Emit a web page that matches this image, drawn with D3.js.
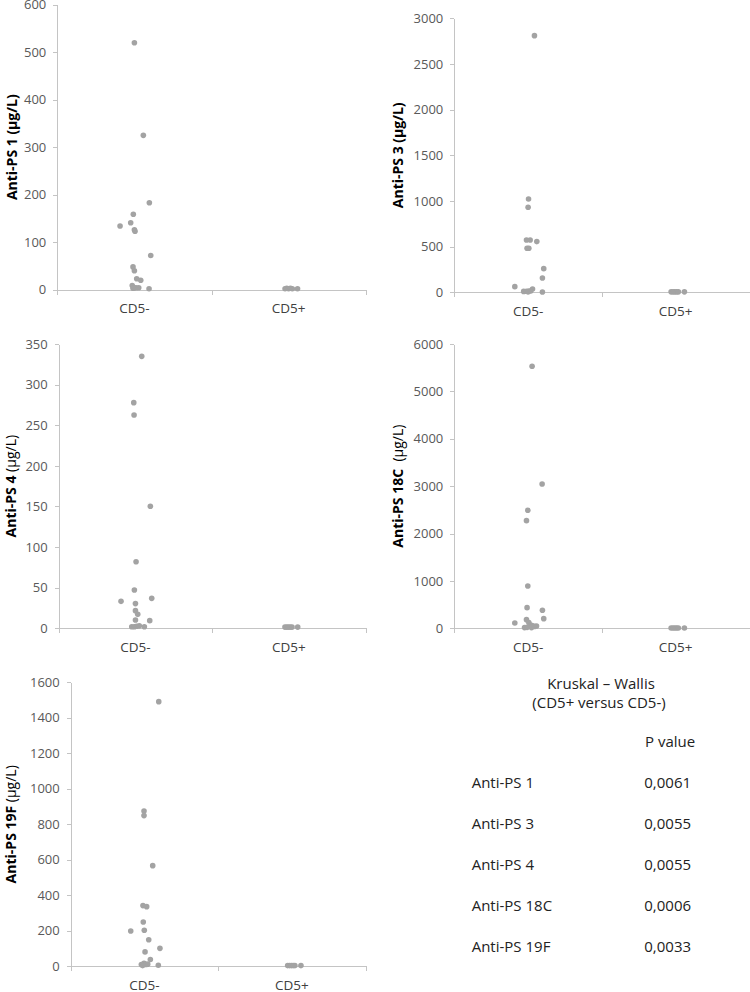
<!DOCTYPE html>
<html>
<head>
<meta charset="utf-8">
<script src="https://cdn.jsdelivr.net/npm/d3@7"></script>
<style>
  html, body { margin: 0; padding: 0; background: #fff; }
  svg { display: block; font-family: "Open Sans", sans-serif; }
  .axis path, .axis line { stroke: #c4c4c4; shape-rendering: crispEdges; }
  .axis text { fill: #595959; font-size: 13px; font-family: "Open Sans", sans-serif; }
  .cat { fill: #404040; font-size: 13.5px; }
  .ylab { fill: #000; font-size: 14px; font-weight: 700; }
  .ylab .unit-light { font-weight: 400; }
  .tbl { fill: #222; font-size: 15px; }
</style>
</head>
<body>
<svg id="chart" width="750" height="992"></svg>
<script>
// categories on the x axis of every panel
const categories = ["CD5-", "CD5+"]

// y axis: max and tick step per panel
const yMax = [600, 3000, 350, 6000, 1600]
const yStep = [100, 500, 50, 1000, 200]

// Anti-PS 1
const ps1Neg = [520, 325, 183, 159, 141, 134, 126, 123, 72, 48, 40, 23, 20, 9, 2, 4, 4, 4, 3]
const ps1NegJit = [0, 0.058, 0.097, -0.007, -0.024, -0.093, 0, 0.004, 0.106, -0.009, 0, 0.015, 0.041, -0.014, 0.095, 0, 0.01, 0.028, -0.009]
const ps1Pos = [2, 3, 2, 3, 2, 2]
const ps1PosJit = [-0.023, -0.012, 0, 0.012, 0.024, 0.058]

// Anti-PS 3
const ps3Neg = [2810, 1022, 931, 573, 573, 555, 482, 482, 259, 157, 62, 36, 10, 12, 15, 15, 4, 5]
const ps3NegJit = [0.043, 0.003, 0, -0.011, 0.014, 0.059, -0.007, 0.005, 0.106, 0.097, -0.09, 0.03, -0.03, -0.011, 0.005, 0.018, 0.097, 0]
const ps3Pos = [5, 5, 5, 5, 5, 5]
const ps3PosJit = [-0.031, -0.018, -0.006, 0.006, 0.018, 0.059]

// Anti-PS 4
const ps4Neg = [334.8, 277.8, 262.6, 150.2, 82, 47.2, 36.9, 33.2, 30.4, 21.7, 17.2, 10.3, 9.4, 2, 2, 2.5, 3, 2]
const ps4NegJit = [0.041, -0.011, -0.009, 0.097, 0.004, -0.007, 0.106, -0.094, 0, 0, 0.015, 0, 0.093, -0.024, -0.007, 0.008, 0.025, 0.058]
const ps4Pos = [1.5, 1.5, 1.5, 1.5, 1.5, 1.5]
const ps4PosJit = [-0.026, -0.014, -0.003, 0.008, 0.02, 0.057]

// Anti-PS 18C
const ps18Neg = [5529, 3046, 2490, 2272, 893, 436, 380, 204, 183, 113, 120, 70, 60, 50, 40, 15, 20, 15]
const ps18NegJit = [0.027, 0.095, -0.002, -0.011, -0.002, -0.007, 0.097, 0.106, -0.011, -0.09, 0.005, 0.016, 0.027, 0.057, 0.043, -0.024, -0.007, 0.023]
const ps18Pos = [5, 5, 5, 5, 5, 5]
const ps18PosJit = [-0.031, -0.018, -0.006, 0.006, 0.018, 0.059]

// Anti-PS 19F
const ps19Neg = [1491, 875, 849, 567, 342, 336, 250, 203, 199, 150, 101, 81, 38, 17, 10, 10, 12, 6, 4]
const ps19NegJit = [0.097, -0.003, -0.003, 0.056, -0.01, 0.015, -0.008, -0.001, -0.093, 0.029, 0.105, 0.004, 0.04, -0.003, -0.021, 0.011, 0.022, 0.094, -0.012]
const ps19Pos = [4, 4, 4, 4, 4, 4]
const ps19PosJit = [-0.029, -0.016, -0.004, 0.008, 0.02, 0.061]

// Kruskal-Wallis table
const tableRows = ["Anti-PS 1", "Anti-PS 3", "Anti-PS 4", "Anti-PS 18C", "Anti-PS 19F"]
const pValues = ["0,0061", "0,0055", "0,0055", "0,0006", "0,0033"]

const panelNames = ["Anti-PS 1", "Anti-PS 3", "Anti-PS 4", "Anti-PS 18C", "Anti-PS 19F"]
const series = [
  [[ps1Neg, ps1NegJit], [ps1Pos, ps1PosJit]],
  [[ps3Neg, ps3NegJit], [ps3Pos, ps3PosJit]],
  [[ps4Neg, ps4NegJit], [ps4Pos, ps4PosJit]],
  [[ps18Neg, ps18NegJit], [ps18Pos, ps18PosJit]],
  [[ps19Neg, ps19NegJit], [ps19Pos, ps19PosJit]],
]

// pixel boxes of each plot area (layout only)
const boxes = [
  { x0: 57.3, x1: 365.7, top: 4.7, bottom: 289.7, labX: 11, boldUnit: true },
  { x0: 454.3, x1: 749.5, top: 18.3, bottom: 292.3, labX: 397, boldUnit: true },
  { x0: 58.7, x1: 365.7, top: 344, bottom: 628.3, labX: 10, boldUnit: false },
  { x0: 454.3, x1: 749.5, top: 344, bottom: 628.3, labX: 397, boldUnit: false },
  { x0: 70.7, x1: 365.7, top: 682.3, bottom: 966.3, labX: 10, boldUnit: false },
]

const svg = d3.select("#chart")

boxes.forEach((b, i) => {
  const g = svg.append("g")
  const x = d3.scaleLinear().domain([0, categories.length]).range([b.x0, b.x1])
  const y = d3.scaleLinear().domain([0, yMax[i]]).range([b.bottom, b.top])

  g.append("g")
    .attr("class", "axis")
    .attr("transform", `translate(${b.x0},0)`)
    .call(d3.axisLeft(y).tickValues(d3.range(0, yMax[i] + 1, yStep[i])).tickSize(4).tickSizeOuter(0).tickPadding(7).tickFormat(d3.format("d")))

  g.append("g")
    .attr("class", "axis")
    .attr("transform", `translate(0,${b.bottom})`)
    .call(d3.axisBottom(x).tickValues(d3.range(0, categories.length + 1)).tickSize(5).tickSizeOuter(0).tickFormat(""))

  g.selectAll(".cat")
    .data(categories)
    .join("text")
    .attr("class", "cat")
    .attr("x", (d, k) => x(k + 0.5))
    .attr("y", b.bottom + 23.5)
    .attr("text-anchor", "middle")
    .text((d) => d)

  const pts = []
  series[i].forEach(([vals, jit], k) => {
    vals.forEach((v, j) => pts.push({ c: k + 0.5 + jit[j], v }))
  })
  g.selectAll("circle")
    .data(pts)
    .join("circle")
    .attr("cx", (d) => x(d.c))
    .attr("cy", (d) => y(d.v))
    .attr("r", 2.8)
    .attr("fill", "#a3a3a3")

  const cy = (b.top + b.bottom) / 2
  const lab = g.append("text")
    .attr("class", "ylab")
    .attr("text-anchor", "middle")
    .attr("dominant-baseline", "central")
    .attr("transform", `translate(${b.labX},${cy}) rotate(-90)`)
  lab.append("tspan").text(panelNames[i] + (i === 3 ? "\u00a0 " : " "))
  lab.append("tspan").attr("class", b.boldUnit ? null : "unit-light").text("(µg/L)")
})

// table
const tbl = svg.append("g").attr("class", "tbl")
tbl.append("text").attr("x", 601).attr("y", 689).attr("text-anchor", "middle").text("Kruskal – Wallis")
tbl.append("text").attr("x", 599).attr("y", 708).attr("text-anchor", "middle").text("(CD5+ versus CD5-)")
tbl.append("text").attr("x", 645).attr("y", 747).text("P value")

const rowY = d3.scalePoint().domain(tableRows).range([788, 952])
tbl.selectAll(".row")
  .data(tableRows)
  .join("text")
  .attr("class", "row")
  .attr("x", 471.7)
  .attr("y", (d) => rowY(d))
  .text((d) => d)
tbl.selectAll(".pv")
  .data(pValues)
  .join("text")
  .attr("class", "pv")
  .attr("x", 644.3)
  .attr("y", (d, k) => rowY(tableRows[k]))
  .text((d) => d)
</script>
</body>
</html>
